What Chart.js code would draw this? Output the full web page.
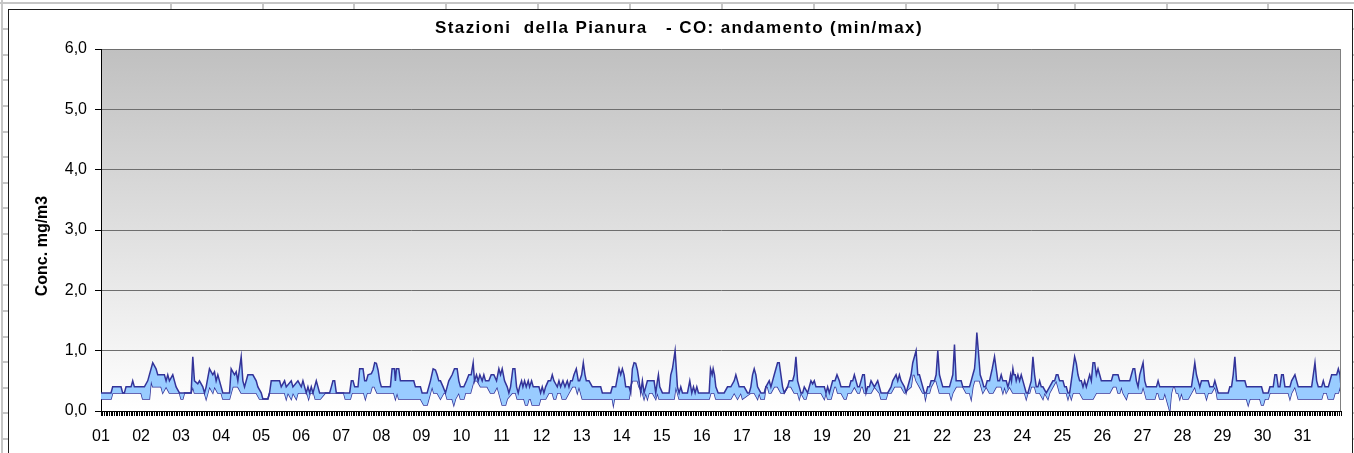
<!DOCTYPE html>
<html>
<head>
<meta charset="utf-8">
<script src="https://cdn.jsdelivr.net/npm/chart.js@4.4.1/dist/chart.umd.min.js"></script>
<style>
html,body{margin:0;padding:0;background:#fff;overflow:hidden}
#wrap{position:relative;width:1354px;height:453px}
</style>
</head>
<body>
<div id="wrap"><canvas id="c" width="1354" height="453"></canvas></div>
<script>
const chartTitle = 'Stazioni  della Pianura   - CO: andamento (min/max)';
const yAxisTitle = 'Conc. mg/m3';
const dayLabels = ['01','02','03','04','05','06','07','08','09','10','11','12','13','14','15','16','17','18','19','20','21','22','23','24','25','26','27','28','29','30','31'];
const yTickValues = [0, 1, 2, 3, 4, 5, 6];

// [hour of month, mg/m3] vertices of the hourly maximum line
const maxSeries = [
[0,0.3],[6,0.3],[7,0.4],[12,0.4],[13,0.3],[14,0.3],[15,0.4],[18,0.4],[19,0.5],[20,0.4],[26,0.4],[28,0.5],[31,0.8],[33,0.7],[34,0.6],[38,0.6],[39,0.5],[40,0.6],[41,0.5],[43,0.6],[44,0.5],[45,0.4],[47,0.3],[54,0.3],[55,0.9],[56,0.5],[58,0.45],[59,0.5],[61,0.4],[62,0.3],[63,0.4],[65,0.7],[67,0.6],[68,0.65],[69,0.5],[70,0.6],[72,0.4],[73,0.3],[77,0.3],[78,0.7],[80,0.6],[81,0.65],[82,0.5],[84,0.9],[85,0.5],[86,0.4],[88,0.6],[91,0.6],[93,0.5],[94,0.4],[96,0.3],[97,0.2],[100,0.2],[101,0.3],[102,0.5],[107,0.5],[108,0.4],[110,0.5],[111,0.4],[114,0.5],[115,0.4],[118,0.5],[120,0.4],[121,0.5],[123,0.3],[124,0.4],[125,0.3],[126,0.4],[127,0.3],[128,0.4],[129,0.5],[130,0.4],[131,0.3],[137,0.3],[138,0.4],[139,0.5],[140,0.5],[141,0.3],[149,0.3],[150,0.5],[151,0.5],[152,0.4],[154,0.4],[155,0.7],[157,0.7],[158,0.5],[159,0.5],[160,0.6],[162,0.62],[163,0.68],[164,0.8],[165,0.79],[166,0.68],[167,0.5],[168,0.4],[173.4,0.4],[174.4,0.7],[175.8,0.7],[176.4,0.5],[177,0.7],[178.4,0.7],[179.4,0.5],[187.4,0.5],[188.4,0.4],[191.4,0.4],[192.4,0.3],[195.4,0.3],[197.4,0.5],[199,0.7],[200.4,0.68],[201.4,0.6],[202.4,0.5],[203.4,0.5],[205,0.4],[206.4,0.3],[207.4,0.4],[208.4,0.5],[210.4,0.6],[211.8,0.7],[213.4,0.7],[214.4,0.5],[215.4,0.4],[217.4,0.4],[219,0.5],[220.4,0.6],[221.8,0.6],[223,0.8],[223.8,0.5],[225,0.6],[226,0.5],[227,0.6],[228.4,0.5],[229.4,0.6],[230.4,0.5],[232.4,0.5],[233.8,0.6],[235.4,0.6],[237,0.5],[238.4,0.7],[239.4,0.6],[240.4,0.7],[241.8,0.5],[243.4,0.4],
[244.4,0.3],[245.4,0.4],[246.8,0.7],[248,0.7],[249,0.4],[250,0.3],[250.8,0.4],[252,0.5],[252.8,0.4],[253.8,0.5],[254.8,0.4],[256,0.5],[256.8,0.4],[258,0.5],[259,0.4],[262.4,0.4],[263.4,0.3],[264.4,0.4],[265.4,0.3],[266.4,0.4],[268,0.5],[269.4,0.5],[270.4,0.6],[271.4,0.5],[273.4,0.4],[274.4,0.5],[275.4,0.4],[276.8,0.5],[278,0.4],[279.4,0.5],[280.4,0.4],[281.4,0.5],[282.4,0.5],[283.4,0.6],[284.8,0.7],[286,0.5],[286.8,0.5],[288,0.6],[289,0.8],[290,0.6],[290.8,0.5],[292.4,0.5],[294.4,0.4],[299.4,0.4],[300.4,0.3],[305.4,0.3],[306.4,0.4],[308.4,0.4],[310.4,0.7],[311.4,0.6],[312.4,0.7],[313.4,0.6],[314.4,0.4],[316.4,0.4],[317.4,0.3],[318.4,0.7],[319.4,0.8],[320.4,0.79],[321.4,0.68],[322.4,0.5],[323.4,0.3],[324.4,0.5],[325.4,0.3],[326.4,0.4],[327.4,0.5],[331.4,0.5],[332.4,0.3],[333.4,0.5],[334,0.6],[334.8,0.4],[336.4,0.3],[340.4,0.3],[341.4,0.6],[342.4,0.7],[344,1.0],[345.4,0.4],[346.4,0.3],[347.4,0.4],[348.4,0.3],[351.4,0.3],[352.8,0.5],[354,0.3],[355,0.4],[356,0.3],[357,0.4],[358,0.3],[364.4,0.3],[365.2,0.7],[366.2,0.6],[366.8,0.7],[367.6,0.6],[368.4,0.4],[369.8,0.3],[373.4,0.3],[375.4,0.4],[377.4,0.4],[379.4,0.5],[380.4,0.6],[381.4,0.5],[382.4,0.4],[385.4,0.4],[387.4,0.3],[388.4,0.3],[389.4,0.4],[390.4,0.6],[391.4,0.7],[392.4,0.6],[393.4,0.4],[395.4,0.3],[397.4,0.3],[398.4,0.4],[400.4,0.5],[401.4,0.4],[402.4,0.5],[403.4,0.6],[404.4,0.7],[405.4,0.8],[406.4,0.8],[407.4,0.6],[408.4,0.4],[409.4,0.3],[411.4,0.4],[412.4,0.5],[414.4,0.5],[415.4,0.6],[416.4,0.9],[417.4,0.5],[418.4,0.4],[419.4,0.3],[420.4,0.3],[421.4,0.4],[423.4,0.3],[425.4,0.5],[426.4,0.45],[427.4,0.5],[428.4,0.4],[433.4,0.4],[434.4,0.3],[435.4,0.4],[436.4,0.3],[437.4,0.4],[438.4,0.5],[439.8,0.5],[441,0.6],[442.4,0.5],[443.4,0.4],[448.4,0.4],[449.4,0.5],[450.4,0.5],[451.4,0.6],[452.4,0.5],[453.4,0.4],[454.4,0.4],[455.4,0.5],[456.4,0.6],[457.4,0.6],[458.4,0.3],[459.4,0.4],[460.4,0.4],[461.4,0.5],[463.4,0.4],[465.4,0.5],[466.4,0.4],[467.4,0.3],[471.4,0.3],[473.4,0.4],[474.4,0.5],[476.4,0.6],[477.4,0.5],[478.4,0.6],[479.4,0.5],[481.4,0.4],[482.4,0.3],[485.4,0.6],[486.4,0.8],[487.4,0.9],[488.4,1.0],[489.4,0.6],[490.4,0.6],[491.4,0.5],[492.4,0.4],[493.4,0.3],[494.4,0.3],[495.4,0.4],[496.4,0.4],[497.4,0.5],[499.4,0.5],[500.4,0.6],[501.4,1.0],[502.4,0.6],[503.4,0.5],[504.4,0.4],[508.4,0.4],[509.4,0.5],[510.4,0.6],[511.4,1.1],[512.4,0.5],[515.4,0.5],[516.4,0.4],[520.4,0.4],[521.4,0.5],[522.4,0.6],[523.4,0.7],[524,0.9],[524.8,1.3],[525.8,0.96],[526.8,0.6],[528,0.5],[529,0.4],[530,0.4],[531,0.5],[532.4,0.5],[534,0.7],[535.4,0.9],[536.4,0.7],[537.4,0.5],[538.4,0.5],[539.4,0.6],[540.4,0.5],[542.4,0.5],[543.4,0.4],[544.4,0.5],[545,0.6],[545.6,0.5],[546.4,0.7],[547,0.6],[547.8,0.6],[548.4,0.5],[549.4,0.6],[550.4,0.5],[551.4,0.6],[552.4,0.5],[553.4,0.4],[554.4,0.3],[555.4,0.3],[556.4,0.4],[557.4,0.5],[558.4,0.9],[559.4,0.6],[560.4,0.4],[561.4,0.4],[562.4,0.5],[563.4,0.4],[564.4,0.4],[566.4,0.3],[568.4,0.4],[570.4,0.5],[571.4,0.5],[572.4,0.6],[573.4,0.6],[574.4,0.5],[576.4,0.5],[577.4,0.4],[578.4,0.4],[579.4,0.3],[580.4,0.3],[581.4,0.5],[582.4,0.7],[583.4,0.9],[584.4,0.79],[585.4,0.6],[586.4,0.5],[587.4,0.5],[588.4,0.4],[589.4,0.5],[590.4,0.4],[592.4,0.6],[593.4,0.5],[594.4,0.8],[595.4,0.8],[596.4,0.6],[597.4,0.7],[598.4,0.6],[599.4,0.5],[605.4,0.5],[606.4,0.6],[609.4,0.6],[610.4,0.5],[616.4,0.5],[617.4,0.6],[618.4,0.7],[619.4,0.7],[620.4,0.5],[621.4,0.4],[622.4,0.6],[623.4,0.7],[624.4,0.8],[625.4,0.5],[626.4,0.4],[632.4,0.4],[633.4,0.5],[634.4,0.4],[653.4,0.4],[654.4,0.6],[655.4,0.8],[656.4,0.6],[657.4,0.5],[658.4,0.4],[659.4,0.5],[663.4,0.5],[664.4,0.4],[666.4,0.4],[667.4,0.5],[668.4,0.4],[669.4,0.3],[675.4,0.3],[676.4,0.4],[677.4,0.4],[678.4,0.6],[679.4,0.9],[680.4,0.5],[685.4,0.5],[686.4,0.4],[695.4,0.4],[696.4,0.3],[699.4,0.3],[700.4,0.4],[702.4,0.4],[703.4,0.6],[704.4,0.6],[705.4,0.4],[706.4,0.4],[707.4,0.6],[708.4,0.6],[709.4,0.4],[712.4,0.4],[713.4,0.5],[715.4,0.6],[716.4,0.5],[717.4,0.4],[725.4,0.4],[726.4,0.6],[727.4,0.8],[728.4,0.5],[729.4,0.4],[731.4,0.4],[732.4,0.5],[733.4,0.4],[735.4,0.4],[736.4,0.5],[737.4,0.6],[740.4,0.6],[741.4,0.7],[742.4,0.6],[743,0.4]
];

// [hour of month, mg/m3] vertices of the hourly minimum line
const minSeries = [
[0,0.2],[6,0.2],[7,0.3],[24,0.3],[25,0.2],[29,0.2],[30,0.5],[31,0.4],[36,0.4],[37,0.3],[39,0.4],[41,0.3],[47,0.3],[48,0.2],[49,0.2],[50,0.3],[54,0.3],[55,0.4],[56,0.3],[62,0.3],[63,0.2],[64,0.3],[65,0.4],[67,0.3],[68,0.4],[70,0.3],[72,0.3],[73,0.2],[77,0.2],[78,0.3],[79,0.4],[82,0.4],[84,0.3],[93,0.3],[95,0.2],[100,0.2],[101,0.3],[107,0.3],[110,0.3],[111,0.2],[112,0.3],[114,0.2],[115,0.3],[117,0.2],[118,0.3],[123.4,0.3],[124.4,0.2],[125.4,0.3],[127.4,0.3],[128.4,0.2],[131.4,0.2],[134.4,0.3],[145.4,0.3],[146.4,0.2],[149.4,0.2],[150.4,0.3],[157.4,0.3],[158.4,0.2],[159.4,0.3],[161.4,0.3],[162.4,0.4],[163.8,0.4],[165.4,0.3],[175.4,0.3],[176.4,0.2],[177.4,0.3],[178.4,0.2],[191.4,0.2],[193.4,0.1],[195.4,0.1],[196.4,0.2],[197.4,0.3],[198.4,0.4],[199.4,0.3],[201.4,0.3],[203.4,0.2],[205.4,0.3],[206.4,0.3],[207.4,0.2],[210.4,0.2],[211.4,0.1],[212.4,0.2],[214.4,0.3],[215.4,0.2],[217.4,0.2],[218.4,0.3],[221.4,0.3],[223.4,0.5],[225.4,0.5],[227.4,0.4],[231.4,0.4],[233.4,0.3],[235.4,0.3],[237.4,0.4],[238.4,0.3],[240.4,0.1],[242.4,0.1],[243.4,0.2],[246.4,0.3],[248.4,0.3],[249.4,0.2],[253.4,0.2],[254.4,0.1],[255.4,0.1],[256.4,0.2],[257.4,0.2],[258.4,0.1],[262.4,0.1],[263.4,0.2],[266.4,0.2],[268.4,0.3],[270.4,0.3],[271.4,0.2],[272.4,0.2],[273.4,0.3],[275.4,0.3],[276.4,0.2],[278.4,0.2],[280.4,0.3],[282.4,0.4],[284.4,0.4],[285.4,0.3],[286.4,0.4],[288.4,0.2],[306.4,0.2],[307,0.1],[307.6,0.2],[316.4,0.2],[317.4,0.4],[318.4,0.5],[321.4,0.5],[322.4,0.4],[324.4,0.3],[325.4,0.2],[326.4,0.3],[327.4,0.2],[328.4,0.3],[330.4,0.3],[332.4,0.2],[333.4,0.3],[334.4,0.2],[343.4,0.2],[344.4,0.4],[345.4,0.3],[346.4,0.2],[364.4,0.2],[365.4,0.3],[367.4,0.3],[368.4,0.2],[377.4,0.2],[379.4,0.3],[381.4,0.2],[383.4,0.3],[384.4,0.2],[389.4,0.3],[391.4,0.3],[393.4,0.2],[394.4,0.3],[395.4,0.2],[397.4,0.2],[398.4,0.4],[399.4,0.4],[400.4,0.3],[401.4,0.3],[403.4,0.4],[405.4,0.4],[407.4,0.3],[409.4,0.3],[411.4,0.4],[413.4,0.4],[415.4,0.3],[417.4,0.3],[418.4,0.2],[419.4,0.3],[421.4,0.2],[422.4,0.2],[423.4,0.3],[431.4,0.3],[433.4,0.2],[434.4,0.3],[435.4,0.2],[437.4,0.2],[439.4,0.4],[440.4,0.4],[441.4,0.3],[443.4,0.3],[445.4,0.2],[446.4,0.2],[447.4,0.3],[449.4,0.3],[451.4,0.4],[453.4,0.3],[454.4,0.3],[455.4,0.4],[456.4,0.4],[457.4,0.3],[461.4,0.3],[463.4,0.4],[466.4,0.3],[467.4,0.2],[470.4,0.2],[471.4,0.3],[473.4,0.3],[475.4,0.4],[479.4,0.4],[481.4,0.3],[485.4,0.4],[486.4,0.6],[487.4,0.6],[488.4,0.5],[490.4,0.4],[492.4,0.3],[493.4,0.3],[494,0.2],[494.8,0.3],[496.4,0.3],[497.4,0.4],[499.4,0.5],[500.4,0.5],[501.4,0.4],[502.4,0.3],[508.4,0.3],[509.4,0.2],[510.4,0.3],[512.4,0.4],[516.4,0.4],[518.4,0.3],[520.4,0.3],[521.4,0.2],[522.4,0.4],[523.4,0.5],[526.4,0.5],[527.4,0.4],[528.4,0.3],[530.4,0.4],[532.4,0.3],[534.4,0.3],[536.4,0.4],[539.4,0.4],[540.4,0.3],[541.4,0.4],[542.4,0.3],[544.4,0.4],[546.4,0.3],[553.4,0.3],[554.4,0.2],[555.4,0.3],[556.4,0.3],[557.4,0.4],[559.4,0.4],[560.4,0.3],[562.4,0.3],[564.4,0.2],[565.4,0.3],[567.4,0.2],[568.4,0.3],[570.4,0.4],[572.4,0.5],[573.4,0.4],[574.4,0.3],[578.4,0.3],[579.4,0.2],[580.4,0.3],[581.4,0.2],[582.4,0.3],[586.4,0.3],[588.4,0.2],[594.4,0.2],[596.4,0.3],[604.4,0.3],[606.4,0.4],[608.4,0.4],[609.4,0.3],[610.4,0.3],[611.4,0.4],[612.4,0.3],[614.4,0.2],[615.4,0.3],[623.4,0.3],[624.4,0.4],[625.4,0.3],[626.4,0.2],[631.4,0.2],[632.4,0.3],[633.4,0.3],[634.4,0.2],[636.4,0.2],[637.4,0.3],[638.4,0.2],[639.4,0.1],[640.4,0.0],[641,0.2],[641.4,0.3],[642.4,0.4],[643.4,0.4],[644.4,0.3],[645.4,0.3],[646.4,0.2],[647.4,0.3],[648.4,0.2],[651.4,0.2],[653.4,0.3],[655.4,0.4],[656.4,0.3],[661.4,0.3],[662.4,0.2],[663.4,0.3],[665.4,0.3],[667.4,0.4],[668.4,0.3],[669,0.2],[686.4,0.2],[687.4,0.1],[688.4,0.2],[694.4,0.2],[695.4,0.1],[696.4,0.1],[697.4,0.2],[699.4,0.2],[700.4,0.3],[711.4,0.3],[712.4,0.2],[713.4,0.3],[715.4,0.4],[716.4,0.3],[717.4,0.2],[731.4,0.2],[732.4,0.3],[734.4,0.3],[735.4,0.2],[738.4,0.2],[739.4,0.3],[741.4,0.3],[742.4,0.4],[743,0.3]
];

// spreadsheet cell borders visible around the embedded chart (page decoration)
const sheetColumnEdges = [171, 263, 354, 446, 538, 630, 722, 814, 906, 998, 1075, 1167, 1268];
const sheetRowEdges = [29, 54.6, 80.3, 105.9, 131.5, 157.1, 182.8, 208.4, 234, 259.6, 285.3, 310.9, 336.5, 362.1, 387.8, 413.4, 439];

const FONT = '"Liberation Sans", Arial, sans-serif';

const decor = {
  id: 'decor',
  beforeDraw(chart) {
    const ctx = chart.ctx, ca = chart.chartArea, W = chart.width, H = chart.height;
    ctx.save();
    ctx.fillStyle = '#ffffff';
    ctx.fillRect(0, 0, W, H);
    ctx.fillStyle = '#c6c6c6';
    ctx.fillRect(0, 2, W, 2);
    sheetColumnEdges.forEach(x => ctx.fillRect(x - 1, 4, 2, 5));
    ctx.fillRect(1, 0, 2, H);
    sheetRowEdges.forEach(y => { ctx.fillRect(3, Math.round(y) - 1, 5, 2); ctx.fillRect(1353, Math.round(y) - 1, 1, 2); });
    ctx.strokeStyle = '#1e1e1e';
    ctx.lineWidth = 1;
    ctx.strokeRect(8.5, 9.5, 1344, H + 20);
    const g = ctx.createLinearGradient(0, ca.top, 0, ca.bottom);
    g.addColorStop(0, '#c0c0c0');
    g.addColorStop(1, '#ffffff');
    ctx.fillStyle = g;
    ctx.fillRect(ca.left, ca.top, ca.right - ca.left, ca.bottom - ca.top);
    ctx.restore();
  },
  afterDraw(chart) {
    const ctx = chart.ctx, ca = chart.chartArea;
    ctx.save();
    ctx.strokeStyle = '#808080';
    ctx.lineWidth = 1;
    ctx.beginPath();
    ctx.moveTo(ca.right - 0.5, ca.top);
    ctx.lineTo(ca.right - 0.5, ca.bottom);
    ctx.stroke();
    ctx.fillStyle = '#000';
    ctx.font = 'bold 17px ' + FONT;
    if ('letterSpacing' in ctx) ctx.letterSpacing = '1.4px';
    ctx.textAlign = 'center';
    ctx.textBaseline = 'alphabetic';
    ctx.fillText(chartTitle, 679, 33);
    if ('letterSpacing' in ctx) ctx.letterSpacing = '0px';
    ctx.font = 'bold 16px ' + FONT;
    ctx.translate(47, 246);
    ctx.rotate(-Math.PI / 2);
    ctx.fillText(yAxisTitle, 0, 0);
    ctx.restore();
  }
};

new Chart(document.getElementById('c'), {
  type: 'line',
  data: {
    datasets: [
      {
        label: 'max',
        data: maxSeries.map(p => ({x: p[0], y: p[1]})),
        borderColor: '#333399',
        borderWidth: 1.5,
        backgroundColor: '#99ccff',
        fill: '+1',
        pointRadius: 0,
        tension: 0
      },
      {
        label: 'min',
        data: minSeries.map(p => ({x: p[0], y: p[1]})),
        borderColor: '#333399',
        borderWidth: 1.5,
        backgroundColor: '#99ccff',
        fill: false,
        pointRadius: 0,
        tension: 0
      }
    ]
  },
  options: {
    responsive: false,
    animation: false,
    devicePixelRatio: 1,
    layout: {padding: {top: 49, right: 13, bottom: 0, left: 0}},
    plugins: {legend: {display: false}, title: {display: false}, tooltip: {enabled: false}},
    scales: {
      x: {
        type: 'linear',
        min: 0,
        max: 743,
        afterFit(s) { s.height = 42; },
        ticks: {
          stepSize: 1,
          autoSkip: false,
          maxRotation: 0,
          minRotation: 0,
          padding: 11,
          color: '#000',
          font: {family: FONT, size: 16},
          callback(v) { return v % 24 === 0 ? dayLabels[v / 24] : ''; }
        },
        grid: {drawOnChartArea: false, drawTicks: true, tickLength: 5, tickColor: '#000', color: '#000', lineWidth: 1},
        border: {color: '#000', width: 1}
      },
      y: {
        min: 0,
        max: 6,
        afterFit(s) { s.width = 101; },
        afterBuildTicks(s) { s.ticks = yTickValues.map(v => ({value: v})); },
        ticks: {
          padding: 8,
          color: '#000',
          font: {family: FONT, size: 16},
          callback(v) { return v.toFixed(1).replace('.', ','); }
        },
        grid: {color: '#6e6e6e', tickColor: '#000', tickLength: 6, lineWidth: 1},
        border: {color: '#000', width: 1}
      }
    }
  },
  plugins: [decor]
});
</script>
</body>
</html>
